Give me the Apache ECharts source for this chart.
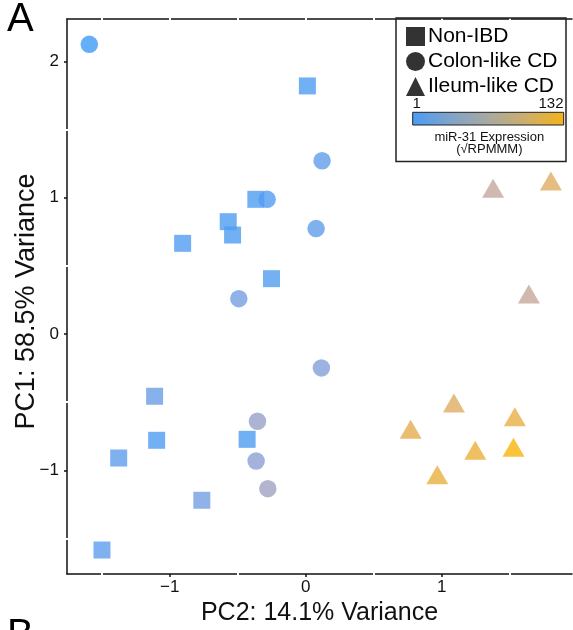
<!DOCTYPE html>
<html><head><meta charset="utf-8">
<script src="https://cdn.jsdelivr.net/npm/echarts@6/dist/echarts.min.js"></script>
<style>html,body{margin:0;padding:0;background:#fff}#c{width:573px;height:630px}</style>
</head><body><div id="c"></div>
<script>
// ---- data ----
const groupNames = ['Non-IBD', 'Colon-like CD', 'Ileum-like CD'];

const nonIBD_pc2 = [0.012, -0.367, -0.570, -0.538, -0.905, -0.252, -1.111, -1.096, -0.431, -1.375, -0.764, -1.498];
const nonIBD_pc1 = [1.820, 0.988, 0.824, 0.726, 0.665, 0.406, -0.457, -0.780, -0.773, -0.910, -1.220, -1.585];
const nonIBD_mir = [8, 8, 8, 8, 9, 10, 20, 8, 8, 15, 24, 14];

const colon_pc2 = [-1.591, 0.120, -0.284, 0.076, -0.492, 0.115, -0.355, -0.365, -0.279];
const colon_pc1 = [2.125, 1.271, 0.988, 0.773, 0.259, -0.249, -0.640, -0.932, -1.135];
const colon_mir = [1, 15, 9, 15, 25, 32, 45, 38, 50];

const ileum_pc2 = [1.377, 1.802, 1.640, 0.771, 1.089, 0.967, 1.246, 1.537, 1.527];
const ileum_pc1 = [1.070, 1.123, 0.293, -0.699, -0.506, -1.032, -0.853, -0.607, -0.831];
const ileum_mir = [78, 104, 80, 110, 104, 115, 117, 113, 132];

const xTicks = [-1, 0, 1];
const yTicks = [-1, 0, 1, 2];
const xHalfBreaks = [-1.5, -0.5, 0.5, 1.5];
const yHalfBreaks = [-1.5, -0.5, 0.5, 1.5];
const topBreaks = [-1.5, -1, -0.5, 0, 0.5, 1, 1.5];
const mirRange = [1, 132];

// ---- build ----
function pts(xs, ys, vs) { return xs.map((x, i) => [x, ys[i], vs[i]]); }
const FONT = 'Liberation Sans, Arial, Helvetica, sans-serif';
const fmt = v => (v < 0 ? '\u2212' + Math.abs(v) : String(v));
const X_MIN = -1.755, X_MAX = 1.957, Y_MIN = -1.761, Y_MAX = 2.311;

const chart = echarts.init(document.getElementById('c'), null, {renderer: 'canvas'});
const axisLine = {show: true, onZero: false, lineStyle: {color: '#111', width: 1.5}};
function breakAxis(position, vals, min, max) {
  return {
    type: 'value', position: position, offset: -1, min: min, max: max,
    axisLine: {show: false, onZero: false},
    axisTick: {show: true, length: 3, customValues: vals, lineStyle: {color: '#fff', width: 2}},
    axisLabel: {show: false}, splitLine: {show: false}
  };
}

const option = {
  animation: false,
  backgroundColor: '#fff',
  grid: {left: 67, top: 19, right: 1, bottom: 56, containLabel: false, outerBoundsMode: 'none'},
  xAxis: [{
    type: 'value', position: 'bottom', min: X_MIN, max: X_MAX,
    axisLine: axisLine,
    axisTick: {show: true, length: 3, customValues: xTicks, lineStyle: {color: '#111', width: 1.5}},
    axisLabel: {customValues: xTicks, formatter: fmt, fontSize: 17, color: '#111', margin: 5, fontFamily: FONT},
    splitLine: {show: false},
    name: 'PC2: 14.1% Variance', nameLocation: 'middle', nameGap: 27,
    nameTextStyle: {fontSize: 25, color: '#111', fontFamily: FONT}
  }, {
    type: 'value', position: 'top', min: X_MIN, max: X_MAX,
    axisLine: axisLine, axisTick: {show: false}, axisLabel: {show: false}, splitLine: {show: false}
  },
  breakAxis('bottom', xHalfBreaks, X_MIN, X_MAX),
  breakAxis('top', topBreaks, X_MIN, X_MAX)
  ],
  yAxis: [{
    type: 'value', min: Y_MIN, max: Y_MAX,
    axisLine: axisLine,
    axisTick: {show: true, length: 3, customValues: yTicks, lineStyle: {color: '#111', width: 1.5}},
    axisLabel: {customValues: yTicks, formatter: fmt, fontSize: 17, color: '#111', margin: 8, fontFamily: FONT, padding: [5, 0, 0, 0]},
    splitLine: {show: false},
    name: 'PC1: 58.5% Variance', nameLocation: 'middle', nameGap: 27, nameRotate: 90, nameMoveOverlap: false,
    nameTextStyle: {fontSize: 27, color: '#111', fontFamily: FONT, padding: [0, 10, 0, 0]}
  },
  breakAxis('left', yHalfBreaks, Y_MIN, Y_MAX)
  ],
  visualMap: {
    type: 'continuous', show: false, min: mirRange[0], max: mirRange[1], dimension: 2,
    seriesIndex: [0, 1, 2],
    inRange: {color: ['#3f9bf7', '#7a9fe0', '#a6a2bd', '#c6a89a', '#e2ad5c', '#f7b50a']}
  },
  legend: {
    orient: 'vertical', left: 401, top: 21, itemWidth: 19, itemHeight: 19, itemGap: 4,
    textStyle: {fontSize: 21, color: '#000', fontFamily: FONT, padding: [0, 0, 0, -2]},
    itemStyle: {color: '#000'},
    data: [
      {name: groupNames[0], icon: 'rect'},
      {name: groupNames[1], icon: 'circle'},
      {name: groupNames[2], icon: 'triangle'}
    ]
  },
  series: [
    {name: groupNames[0], type: 'scatter', symbol: 'rect', symbolSize: 17, data: pts(nonIBD_pc2, nonIBD_pc1, nonIBD_mir)},
    {name: groupNames[1], type: 'scatter', symbol: 'circle', symbolSize: 17.5, data: pts(colon_pc2, colon_pc1, colon_mir)},
    {name: groupNames[2], type: 'scatter', symbol: 'triangle', symbolSize: [22, 19], data: pts(ileum_pc2, ileum_pc1, ileum_mir)}
  ],
  graphic: [
    {type: 'rect', shape: {x: 396, y: 18, width: 170, height: 143.5}, style: {fill: 'rgba(0,0,0,0)', stroke: '#222', lineWidth: 1.5}, z: 1},
    {type: 'rect', shape: {x: 412.7, y: 112.3, width: 151, height: 12.7},
      style: {stroke: '#222', lineWidth: 1,
        fill: {type: 'linear', x: 0, y: 0, x2: 1, y2: 0, colorStops: [
          {offset: 0, color: '#4a9cf3'}, {offset: 0.25, color: '#80a3cb'},
          {offset: 0.5, color: '#a8a9a0'}, {offset: 0.75, color: '#cdae6b'}, {offset: 1, color: '#f3b418'}]}}, z: 10},
    {type: 'text', style: {x: 416.7, y: 104, text: String(mirRange[0]), font: '15px ' + FONT, fill: '#111', align: 'center', verticalAlign: 'middle'}, z: 10},
    {type: 'text', style: {x: 563.5, y: 104, text: String(mirRange[1]), font: '15px ' + FONT, fill: '#111', align: 'right', verticalAlign: 'middle'}, z: 10},
    {type: 'text', style: {x: 489.3, y: 137.5, text: 'miR-31 Expression', font: '13px ' + FONT, fill: '#111', align: 'center', verticalAlign: 'middle'}, z: 10},
    {type: 'text', style: {x: 489.3, y: 149.5, text: '(\u221ARPMMM)', font: '13px ' + FONT, fill: '#111', align: 'center', verticalAlign: 'middle'}, z: 10},
    {type: 'text', style: {x: 7, y: 20, text: 'A', font: '40px ' + FONT, fill: '#000', align: 'left', verticalAlign: 'middle'}, z: 10},
    {type: 'text', style: {x: 7, y: 636, text: 'B', font: '40px ' + FONT, fill: '#000', align: 'left', verticalAlign: 'middle'}, z: 10}
  ]
};
chart.setOption(option);
</script>
</body></html>
